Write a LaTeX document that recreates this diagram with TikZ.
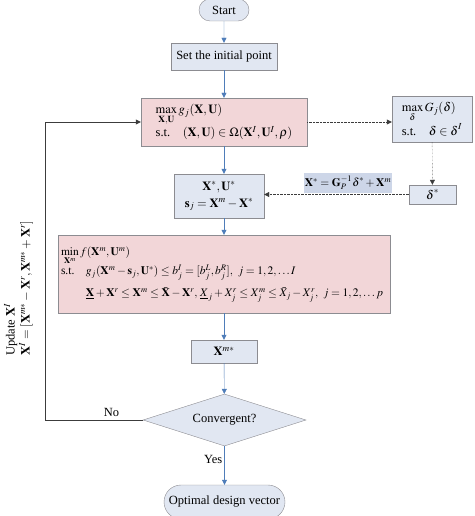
\documentclass[tikz,border=0pt]{standalone}
\usepackage{amsmath}
\usepackage{mathptmx}
\usepackage{fontspec}
\setmainfont{Liberation Serif}
\usetikzlibrary{arrows.meta,shapes.misc,shapes.geometric,calc}
\definecolor{pinkfill}{RGB}{242,214,216}
\definecolor{bluefill}{RGB}{225,231,242}
\definecolor{labfill}{RGB}{205,214,232}
\definecolor{edgegray}{RGB}{140,140,145}
\definecolor{arrblue}{RGB}{79,125,185}
\definecolor{linegray}{RGB}{60,60,60}
\newcommand{\bX}{\mathbf{X}}
\newcommand{\bU}{\mathbf{U}}
\newcommand{\bd}{\boldsymbol{\delta}}
\begin{document}
\begin{tikzpicture}[x=1pt,y=-1pt,
  font=\fontsize{12.5}{15}\selectfont,
  every node/.style={inner sep=2pt},
  bluebox/.style={draw=edgegray,fill=bluefill,rectangle},
  pinkbox/.style={draw=edgegray,fill=pinkfill,rectangle},
  term/.style={draw=edgegray,fill=bluefill,rounded rectangle},
  flow/.style={draw=arrblue,-{Triangle[length=5pt,width=5pt]}},
  dotflow/.style={draw=linegray,densely dotted,-{Triangle[length=5pt,width=5pt]}},
  loopline/.style={draw=linegray}]
\useasboundingbox (0,0) rectangle (474,516);

\node[term,minimum width=54pt,minimum height=22pt] (start) at (224,10) {Start};
\node[bluebox,minimum width=106pt,minimum height=27pt] (init) at (224,56.5) {Set the initial point};
\node[pinkbox,minimum width=166pt,minimum height=48pt,align=left] (opt1) at (224,122)
  {$\displaystyle\max_{\bX,\bU} g_j(\bX,\bU)$\\[0pt]
   s.t.\quad $(\bX,\bU)\in\boldsymbol{\Omega}(\bX^I,\bU^I,\boldsymbol{\rho})$};
\node[bluebox,minimum width=80pt,minimum height=46pt,align=left] (sub) at (432,119)
  {$\displaystyle\max_{\bd} G_j(\bd)$\\[0pt] s.t.\quad $\bd\in\bd^I$};
\node[bluebox,minimum width=47pt,minimum height=19pt] (dstar) at (432.5,194.5) {$\bd^*$};
\node[bluebox,minimum width=90pt,minimum height=44pt,align=center] (xstar) at (219,196)
  {$\bX^*,\bU^*$\\[2pt] $\mathbf{s}_j=\bX^m-\bX^*$};
\node[fill=labfill,minimum width=88pt,minimum height=20pt,inner sep=1pt,
      font=\fontsize{11.5}{14}\selectfont] (lab) at (348,183)
  {$\bX^*=\mathbf{G}_P^{-1}\bd^*+\bX^m$};
\node[pinkbox,minimum width=332pt,minimum height=78pt,text width=326pt,align=left,
      font=\fontsize{11.5}{14}\selectfont] (opt2) at (224,274)
  {\begin{tabular}{@{}l@{\quad}l@{}}
   \multicolumn{2}{@{}l@{}}{$\displaystyle\min_{\bX^m} f(\bX^m,\bU^m)$}\\[5pt]
   s.t. & $g_j(\bX^m-\mathbf{s}_j,\bU^*)\le b_j^I=[b_j^L,b_j^R],\ j=1,2,\ldots I$\\[8pt]
        & $\underline{\bX}+\bX^r\le\bX^m\le\bar{\bX}-\bX^r,\,\underline{X}_j+X_j^r\le X_j^m\le\bar{X}_j-X_j^r,\ j=1,2,\ldots p$
   \end{tabular}};
\node[bluebox,minimum width=66pt,minimum height=23pt] (xm) at (224,351.5) {$\bX^{m*}$};
\node[diamond,aspect=3.1,draw=edgegray,fill=bluefill,minimum width=163pt,minimum height=52pt,inner sep=0pt] (conv) at (224.5,420) {Convergent?};
\node[term,minimum width=125pt,minimum height=34pt] (final) at (224.5,502) {Optimal design vector};

\node[rotate=90,anchor=south west,align=left,inner sep=0pt] (upd) at (33,356)
  {Update $\bX^I$\\ $\bX^I=[\bX^{m*}-\bX^r,\bX^{m*}+\bX^r]$};

\coordinate (loopb) at (45,420);
\coordinate (loopt) at (45,122);

\draw[flow] (start) -- (init);
\draw[flow] (init) -- (opt1);
\draw[flow] (opt1.south) -- (opt1.south |- xstar.north);
\draw[flow] (opt1.south |- xstar.south) -- (opt2.north);
\draw[flow] (opt2) -- (xm);
\draw[flow] (xm) -- (conv);
\draw[flow] (conv) -- node[pos=0.35,left,text=black] {Yes} (final);
\draw[dotflow] (opt1.east) -- (opt1.east -| sub.west);
\draw[dotflow] (sub) -- (dstar);
\draw[dotflow] (dstar) -- (xstar.east |- dstar);
\draw[loopline] (conv.west) -- node[above,pos=0.32,yshift=1pt] {No} (loopb) -- (loopt);
\draw[loopline,-{Triangle[length=5pt,width=5pt]}] (loopt) -- (opt1.west);
\end{tikzpicture}
\end{document}
